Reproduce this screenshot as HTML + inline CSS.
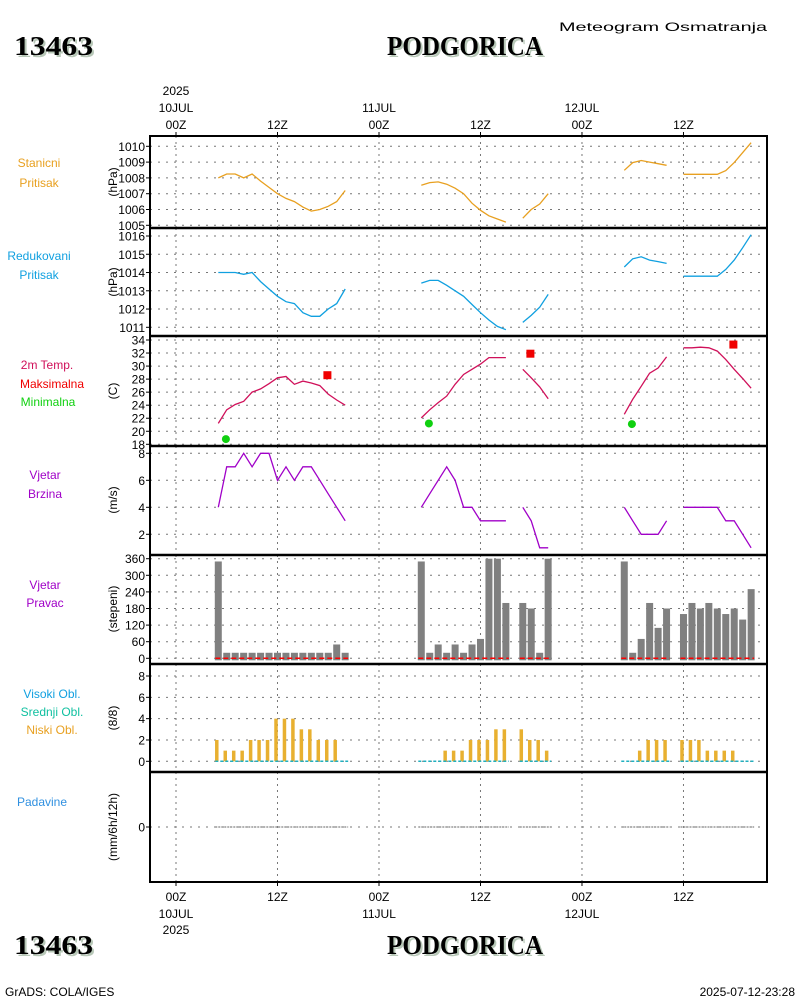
<!DOCTYPE html>
<html><head><meta charset="utf-8">
<style>
body{margin:0;background:#fff;width:800px;height:1000px;overflow:hidden;font-family:"Liberation Sans",sans-serif}
svg{display:block}
.t{font-family:"Liberation Sans",sans-serif;font-size:12px}
.big{font-family:"Liberation Serif",serif;font-size:27px;font-weight:bold}
</style></head><body>
<svg id="chart" width="800" height="1000" xmlns="http://www.w3.org/2000/svg">
<text x="559" y="31" class="t" font-size="17" textLength="208" lengthAdjust="spacingAndGlyphs">Meteogram Osmatranja</text>
<g>
<text x="14" y="55" class="big" fill="#b8c8b8" dx="2" dy="2" textLength="79" lengthAdjust="spacingAndGlyphs">13463</text>
<text x="14" y="55" class="big" fill="#000" textLength="79" lengthAdjust="spacingAndGlyphs">13463</text>
<text x="387" y="55" class="big" fill="#b8c8b8" dx="2" dy="2" textLength="156" lengthAdjust="spacingAndGlyphs">PODGORICA</text>
<text x="387" y="55" class="big" fill="#000" textLength="156" lengthAdjust="spacingAndGlyphs">PODGORICA</text>
</g>
<g>
<text x="14" y="954" class="big" fill="#b8c8b8" dx="2" dy="2" textLength="79" lengthAdjust="spacingAndGlyphs">13463</text>
<text x="14" y="954" class="big" fill="#000" textLength="79" lengthAdjust="spacingAndGlyphs">13463</text>
<text x="387" y="954" class="big" fill="#b8c8b8" dx="2" dy="2" textLength="156" lengthAdjust="spacingAndGlyphs">PODGORICA</text>
<text x="387" y="954" class="big" fill="#000" textLength="156" lengthAdjust="spacingAndGlyphs">PODGORICA</text>
</g>
<text x="5" y="996" class="t" font-size="10">GrADS: COLA/IGES</text>
<text x="795" y="996" class="t" font-size="11" text-anchor="end">2025-07-12-23:28</text>
<g id="g"></g>
</svg>
<script>
// ---- data (hourly, hour index from 10JUL 00Z) ----
const hoursG1=[5,6,7,8,9,10,11,12,13,14,15,16,17,18,19,20];
const hoursG2=[29,30,31,32,33,34,35,36,37,38,39];
const hoursG2b=[41,42,43,44];
const hoursG3=[53,54,55,56,57,58];
const hoursG3b=[60,61,62,63,64,65,66,67,68];
const stnP1=[1008.0,1008.25,1008.25,1008.0,1008.25,1007.8,1007.4,1007.0,1006.7,1006.5,1006.15,1005.9,1006.0,1006.2,1006.5,1007.2];
const stnP2=[1007.53,1007.7,1007.75,1007.6,1007.35,1007.0,1006.4,1005.95,1005.6,1005.4,1005.2];
const stnP2b=[1005.45,1006.0,1006.35,1007.0];
const stnP3=[1008.48,1008.97,1009.1,1009.0,1008.9,1008.8];
const stnP3b=[1008.23,1008.23,1008.23,1008.23,1008.23,1008.46,1008.97,1009.6,1010.23];
const redP1=[1014.0,1014.0,1014.0,1013.9,1014.0,1013.5,1013.1,1012.7,1012.4,1012.3,1011.8,1011.6,1011.6,1012.0,1012.3,1013.1];
const redP2=[1013.42,1013.57,1013.57,1013.3,1013.0,1012.7,1012.25,1011.8,1011.4,1011.05,1010.87];
const redP2b=[1011.27,1011.65,1012.1,1012.8];
const redP3=[1014.3,1014.75,1014.86,1014.68,1014.6,1014.5];
const redP3b=[1013.8,1013.8,1013.8,1013.8,1013.8,1014.17,1014.68,1015.36,1016.07];
const temp1=[21.2,23.3,24.1,24.6,26,26.5,27.3,28.2,28.4,27.2,27.7,27.4,27.0,25.7,24.8,24.0];
const temp2=[22.05,23.3,24.4,25.4,27.2,28.7,29.5,30.3,31.3,31.3,31.3];
const temp2b=[29.5,28.2,26.8,25.0];
const temp3=[22.6,24.9,26.9,28.9,29.7,31.4];
const temp3b=[32.8,32.8,32.9,32.8,32.3,31.0,29.5,28.1,26.6];
const tMaxHours=[17.9,41.9,65.9];
const tMax=[28.6,31.9,33.3];
const tMinHours=[5.9,29.9,53.9];
const tMin=[18.8,21.2,21.1];
const wsp1=[4,7,7,8,7,8,8,6,7,6,7,7,6,5,4,3];
const wsp2=[4,5,6,7,6,4,4,3,3,3,3];
const wsp2b=[4,3,1,1];
const wsp3=[4,3,2,2,2,3];
const wsp3b=[4,4,4,4,4,3,3,2,1];
const wdir1=[350,20,20,20,20,20,20,20,20,20,20,20,20,20,50,20];
const wdir2=[350,20,50,20,50,20,50,70,360,360,200];
const wdir2b=[200,180,20,360];
const wdir3=[350,20,70,200,110,180];
const wdir3b=[160,200,180,200,180,160,180,140,250];
const low1=[2,1,1,1,2,2,2,4,4,4,3,3,2,2,2,0];
const low2=[0,0,0,1,1,1,2,2,2,3,3];
const low2b=[3,2,2,1];
const low3=[0,0,1,2,2,2];
const low3b=[2,2,2,1,1,1,1,0,0];
const xTickHours=[0,12,24,36,48,60];
const xTickLabels=["00Z","12Z","00Z","12Z","00Z","12Z"];
const xDateLabels=["10JUL","","11JUL","","12JUL",""];

const NS="http://www.w3.org/2000/svg";
const G=document.getElementById('g');
function mk(tag,attrs,parent){const e=document.createElementNS(NS,tag);for(const k in attrs)e.setAttribute(k,attrs[k]);(parent||G).appendChild(e);return e;}
const X0=150,X1=767;
function xs(h){return 176+h*8.458;}
function lin(v0,y0,v1,y1){return v=>y0+(v-v0)*(y1-y0)/(v1-v0);}
const panels=[
 {top:136,bot:228,y:lin(1005,225.3,1010,146.3),ticks:[1005,1006,1007,1008,1009,1010],name:'station-pressure'},
 {top:228,bot:336,y:lin(1011,327.3,1016,236),ticks:[1011,1012,1013,1014,1015,1016],name:'reduced-pressure'},
 {top:336,bot:446,y:lin(18,444.3,34,340),ticks:[18,20,22,24,26,28,30,32,34],name:'temperature'},
 {top:446,bot:555,y:lin(2,534.3,8,453.3),ticks:[2,4,6,8],name:'wind-speed'},
 {top:555,bot:664,y:lin(0,658.3,360,558.7),ticks:[0,60,120,180,240,300,360],name:'wind-direction'},
 {top:664,bot:772,y:lin(0,761.3,8,676),ticks:[0,2,4,6,8],name:'clouds'},
 {top:772,bot:882,y:lin(0,827,1,817),ticks:[0],name:'precipitation'}
];
panels.forEach(p=>{
 const pg=mk('g',{});
 
 
 xTickHours.forEach(h=>{const l=mk('line',{x1:xs(h),x2:xs(h),y1:p.top,y2:p.bot,stroke:'#777','stroke-dasharray':'2,4'},pg);
  
  });
 p.ticks.forEach(v=>{const y=p.y(v);
  const l=mk('line',{x1:X0,x2:X1,y1:y,y2:y,stroke:'#777','stroke-dasharray':'2,6'},pg);
  
  
  mk('line',{x1:X0-4,x2:X0,y1:y,y2:y,stroke:'#000'},pg);
  const t=mk('text',{x:X0-5,y:y+4.5,'text-anchor':'end',class:'t','font-size':'12'},pg);t.textContent=v;
  
  
 });
});
function line(hours,vals,p,color,name){
 const d=hours.map((h,i)=>(i?'L':'M')+xs(h).toFixed(1)+','+p.y(vals[i]).toFixed(1)).join(' ');
 const e=mk('path',{d:d,fill:'none',stroke:color,'stroke-width':1.3});
 
 
}
function bars(hours,vals,p,color,w,off,name){
 hours.forEach((h,i)=>{const y0=p.y(0),y=p.y(vals[i]);if(vals[i]<=0)return;
  const r=mk('rect',{x:xs(h)-w/2+off,y:y,width:w,height:y0-y+ (name==='wind-direction-bar'?2:0),fill:color});
  
  });
}
function zline(hours,p,color,name,dash){
 const e=mk('line',{x1:xs(hours[0])-3,x2:xs(hours[hours.length-1])+3,y1:p.y(0),y2:p.y(0),stroke:color,'stroke-width':1.5,'stroke-dasharray':dash});
 
 
}
const P=panels;
const groups=[[hoursG1,0],[hoursG2,1],[hoursG2b,2],[hoursG3,3],[hoursG3b,4]];
const sp=[stnP1,stnP2,stnP2b,stnP3,stnP3b],rp=[redP1,redP2,redP2b,redP3,redP3b],tp=[temp1,temp2,temp2b,temp3,temp3b],
 ws=[wsp1,wsp2,wsp2b,wsp3,wsp3b],wd=[wdir1,wdir2,wdir2b,wdir3,wdir3b],lc=[low1,low2,low2b,low3,low3b];
groups.forEach(([hs,k])=>{
 line(hs,sp[k],P[0],'#e8a020','station-pressure-line');
 line(hs,rp[k],P[1],'#10a0e0','reduced-pressure-line');
 line(hs,tp[k],P[2],'#d0105a','temperature-line');
 line(hs,ws[k],P[3],'#a000c8','wind-speed-line');
 bars(hs,wd[k],P[4],'#808080',7,0,'wind-direction-bar');
 bars(hs,lc[k],P[5],'#e8b030',3.5,-1.5,'low-cloud-bar');
});
[hoursG1,hoursG2,hoursG2b,hoursG3,hoursG3b].forEach(hs=>{
 zline(hs,P[4],'#ff0000','wind-calm-line','5,3');
 zline(hs,P[5],'#20b0c0','high-mid-cloud-line','3,2');
 zline(hs,P[6],'#999','precip-line','2,1');
});
tMaxHours.forEach((h,i)=>{const r=mk('rect',{x:xs(h)-4,y:P[2].y(tMax[i])-4,width:8,height:8,fill:'#f00000'});
 
 });
tMinHours.forEach((h,i)=>{const c=mk('circle',{cx:xs(h),cy:P[2].y(tMin[i]),r:4,fill:'#10d010'});
 
 });
mk('rect',{x:X0,y:136,width:X1-X0,height:746,fill:'none',stroke:'#000','stroke-width':2});
[228,336,446,555,664,772].forEach(y=>{const l=mk('line',{x1:X0,x2:X1,y1:y,y2:y,stroke:'#000','stroke-width':2.5});
 
 });
xTickHours.forEach((h,i)=>{const x=xs(h);
 mk('line',{x1:x,x2:x,y1:136,y2:132,stroke:'#000'});mk('line',{x1:x,x2:x,y1:882,y2:886,stroke:'#000'});
 const t=mk('text',{x:x,y:129,'text-anchor':'middle',class:'t','font-size':'14'});t.textContent=xTickLabels[i];
 
 
 const b=mk('text',{x:x,y:901,'text-anchor':'middle',class:'t','font-size':'14'});b.textContent=xTickLabels[i];
 
 
 if(xDateLabels[i]){
  const d=mk('text',{x:x,y:112,'text-anchor':'middle',class:'t','font-size':'14'});d.textContent=xDateLabels[i];
  
  
  const e=mk('text',{x:x,y:918,'text-anchor':'middle',class:'t','font-size':'14'});e.textContent=xDateLabels[i];
  
  
 }
});
[[176,95],[176,934]].forEach(([x,y])=>{const t=mk('text',{x:x,y:y,'text-anchor':'middle',class:'t','font-size':'14'});t.textContent='2025';
 
 });
const labs=[
 ['Stanicni',39,167,'#e8a020'],['Pritisak',39,187,'#e8a020'],
 ['Redukovani',39,260,'#10a0e0'],['Pritisak',39,279,'#10a0e0'],
 ['2m Temp.',47,369,'#d0105a'],['Maksimalna',52,388,'#f00000'],['Minimalna',48,406,'#10d010'],
 ['Vjetar',45,479,'#a000c8'],['Brzina',45,498,'#a000c8'],
 ['Vjetar',45,589,'#a000c8'],['Pravac',45,607,'#a000c8'],
 ['Visoki Obl.',52,698,'#10a0e0'],['Srednji Obl.',52,716,'#10c0a0'],['Niski Obl.',52,734,'#e8a020'],
 ['Padavine',42,806,'#3090e0']];
labs.forEach(([s,x,y,c])=>{const t=mk('text',{x:x,y:y,'text-anchor':'middle',class:'t','font-size':'14',fill:c});t.textContent=s;
 
 });
const units=[['(hPa)',182],['(hPa)',282],['(C)',391],['(m/s)',500],['(stepeni)',609],['(8/8)',718],['(mm/6h/12h)',827]];
units.forEach(([s,y])=>{const t=mk('text',{x:0,y:0,'text-anchor':'middle',class:'t','font-size':'14',transform:`translate(117 ${y}) rotate(-90)`});t.textContent=s;
 
 });
</script>
</body></html>
